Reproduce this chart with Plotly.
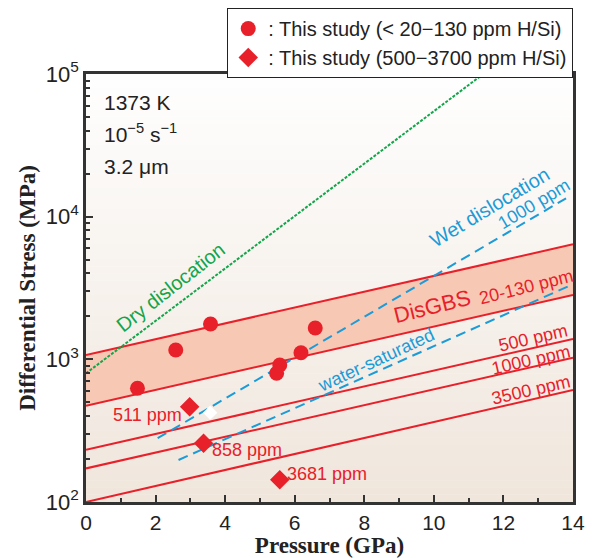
import plotly.graph_objects as go
import numpy as np

# ---------------- data ----------------
# This study, < 20-130 ppm H/Si (circles)
circ_p = [1.48, 2.58, 3.58, 5.48, 5.57, 6.18, 6.59]
circ_s = [627, 1163, 1770, 798, 912, 1113, 1659]
# This study, 500-3700 ppm H/Si (diamonds)
diam_p = [2.98, 3.38, 5.57]
diam_s = [466, 258, 143]
diam_lbl = ["511 ppm", "858 ppm", "3681 ppm"]
# open (white) diamond
white_p = [3.57]
white_s = [423]

# model lines (pressure endpoints, stress endpoints)
line_p = [0, 14]
disgbs_upper = [1072, 6400]
disgbs_lower = [473, 2825]
disgbs_500 = [232, 1390]
disgbs_1000 = [172, 1028]
disgbs_3500 = [100, 610]
dry_p = [0, 11.42]
dry_s = [798, 100000]
wet_p = [2.06, 13.80]
wet_s = [280, 13450]
sat_p = [2.66, 13.95]
sat_s = [197, 3320]

RED = "#e8202a"
BLUE = "#1b9bd7"
GREEN = "#12a54a"
BAND = "#f7c9b4"
SANS = "Liberation Sans, Arial"
SERIF = "Liberation Serif, Times New Roman"

fig = go.Figure()

# background gradient strips
n = 60
top = np.array([255, 255, 255])
bot = np.array([240, 230, 220])
shapes = []
for i in range(n):
    c = top + (bot - top) * (i + 0.5) / n
    shapes.append(dict(type="rect", xref="x domain", yref="y domain",
                       x0=0, x1=1, y0=1 - (i + 1) / n, y1=1 - i / n + 0.001,
                       fillcolor="rgb(%d,%d,%d)" % tuple(c), line=dict(width=0),
                       layer="below"))

# DisGBS band
fig.add_trace(go.Scatter(x=line_p, y=disgbs_lower, mode="lines",
                         line=dict(color=RED, width=2), showlegend=False, hoverinfo="skip"))
fig.add_trace(go.Scatter(x=line_p, y=disgbs_upper, mode="lines", fill="tonexty",
                         fillcolor=BAND, line=dict(color=RED, width=2),
                         showlegend=False, hoverinfo="skip"))
for ys in (disgbs_500, disgbs_1000, disgbs_3500):
    fig.add_trace(go.Scatter(x=line_p, y=ys, mode="lines",
                             line=dict(color=RED, width=2), showlegend=False, hoverinfo="skip"))

fig.add_trace(go.Scatter(x=dry_p, y=dry_s, mode="lines",
                         line=dict(color=GREEN, width=2, dash="3px,1.5px"),
                         showlegend=False, hoverinfo="skip"))
fig.add_trace(go.Scatter(x=wet_p, y=wet_s, mode="lines",
                         line=dict(color=BLUE, width=2, dash="10px,6px"),
                         showlegend=False, hoverinfo="skip"))
fig.add_trace(go.Scatter(x=sat_p, y=sat_s, mode="lines",
                         line=dict(color=BLUE, width=2, dash="10px,6px"),
                         showlegend=False, hoverinfo="skip"))

fig.add_trace(go.Scatter(x=white_p, y=white_s, mode="markers",
                         marker=dict(symbol="diamond", size=11, color="white"),
                         showlegend=False))
fig.add_trace(go.Scatter(x=circ_p, y=circ_s, mode="markers",
                         marker=dict(symbol="circle", size=15, color=RED),
                         name=": This study (< 20\u2212130 ppm H/Si)"))
fig.add_trace(go.Scatter(x=diam_p, y=diam_s, mode="markers",
                         marker=dict(symbol="diamond", size=15, color=RED),
                         name=": This study (500\u22123700 ppm H/Si)"))

ann = []
def A(x, ly, text, color, size, angle=0, xanchor="center"):
    ann.append(dict(x=x, y=ly, xref="x", yref="y", text=text, showarrow=False,
                    textangle=angle, xanchor=xanchor, yanchor="middle",
                    font=dict(color=color, size=size, family=SANS)))

A(0.46, 4.797, "1373 K", "#222", 21, xanchor="left")
A(0.46, 4.586, "10<sup>\u22125</sup> s<sup>\u22121</sup>", "#222", 21, xanchor="left")
A(0.46, 4.355, "3.2 \u03bcm", "#222", 21, xanchor="left")
A(2.44, 3.507, "Dry dislocation", GREEN, 20, -38)
A(11.61, 4.068, "Wet dislocation", BLUE, 20, -31)
A(12.88, 4.089, "1000 ppm", BLUE, 18, -31)
A(9.95, 3.37, "DisGBS", RED, 22, -14)
A(12.65, 3.51, "20-130 ppm", RED, 18, -14)
A(8.35, 2.995, "water-saturated", BLUE, 18, -25)
A(12.85, 3.150, "500 ppm", RED, 18, -13)
A(12.79, 2.995, "1000 ppm", RED, 18, -13)
A(12.79, 2.785, "3500 ppm", RED, 18, -13)
A(1.76, 2.610, diam_lbl[0], RED, 18)
A(4.64, 2.365, diam_lbl[1], RED, 18)
A(6.94, 2.196, diam_lbl[2], RED, 18)

fig.update_layout(
    width=592, height=558,
    margin=dict(l=86, r=19, t=74, b=56, autoexpand=False),
    paper_bgcolor="white", plot_bgcolor="white",
    shapes=shapes, annotations=ann,
    font=dict(family=SANS, color="#222"),
    legend=dict(x=0.29, y=1.154, xanchor="left", yanchor="top", traceorder="normal",
                bgcolor="white", bordercolor="#222", borderwidth=1,
                font=dict(size=20, color="#222", family=SANS), tracegroupgap=0, itemwidth=30),
    xaxis=dict(range=[0, 14], tickvals=[0, 2, 4, 6, 8, 10, 12, 14], automargin=False,
               ticks="inside", ticklen=7, tickwidth=1.5, tickcolor="#333",
               minor=dict(ticks="inside", ticklen=4, dtick=1, tickcolor="#333"),
               showline=True, linewidth=2.5, linecolor="#333", mirror=True,
               showgrid=False, zeroline=False,
               tickfont=dict(size=21, color="#222", family=SANS),
               title=dict(text="<b>Pressure (GPa)</b>", standoff=0,
                          font=dict(family=SERIF, size=23, color="#222"))),
    yaxis=dict(type="log", range=[2, 5], tickvals=[100, 1000, 10000, 100000], automargin=False,
               ticktext=["10<sup>2</sup>", "10<sup>3</sup>", "10<sup>4</sup>", "10<sup>5</sup>"],
               ticks="inside", ticklen=7, tickwidth=1.5, tickcolor="#333",
               minor=dict(ticks="inside", ticklen=4, dtick="D1", tickcolor="#333"),
               showline=True, linewidth=2.5, linecolor="#333", mirror=True,
               showgrid=False, zeroline=False,
               tickfont=dict(size=22, color="#222", family=SANS),
               title=dict(text="<b>Differential Stress (MPa)</b>", standoff=4,
                          font=dict(family=SERIF, size=23, color="#222"))),
)

fig.write_html("out.html", config={"displayModeBar": False},
               post_script="document.body.style.margin='0';")
